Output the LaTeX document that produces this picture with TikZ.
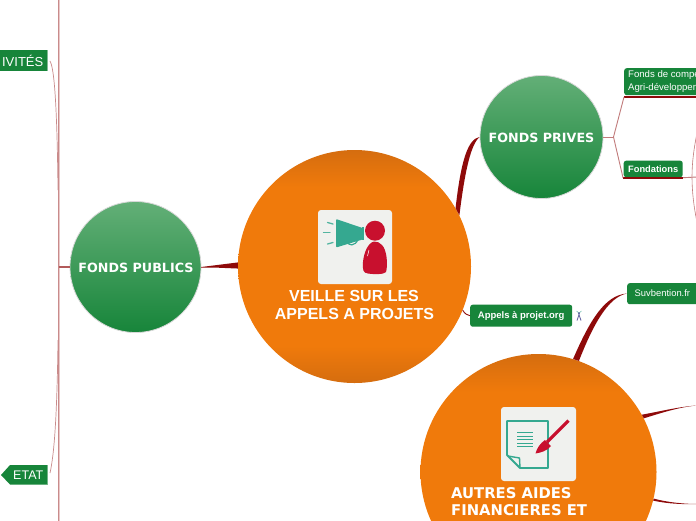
\documentclass[tikz,border=0pt]{standalone}
\usepackage{fontspec}
\setmainfont{Liberation Sans}
\newfontfamily\wide{DejaVu Sans}
\usetikzlibrary{backgrounds,calc}
\definecolor{orangeB}{HTML}{F07A0B}
\definecolor{orangeD}{HTML}{D56D0F}
\definecolor{greenB}{HTML}{17853A}
\definecolor{greenL}{HTML}{63AF77}
\definecolor{linkD}{HTML}{8E0A0A}
\definecolor{linkM}{HTML}{B25A5A}
\definecolor{linkP}{HTML}{E9C9C9}
\definecolor{teal}{HTML}{35A890}
\definecolor{crim}{HTML}{C8102E}
\definecolor{paper}{HTML}{F0F1EE}
\pgfdeclareverticalshading{orangeband}{100bp}{
 color(0bp)=(orangeD); color(25bp)=(orangeD); color(33bp)=(orangeB);
 color(67bp)=(orangeB); color(75bp)=(orangeD); color(100bp)=(orangeD)}
\tikzset{
 bigc/.style={circle,inner sep=0pt,shading=orangeband},
 greenc/.style={circle,inner sep=0pt,top color=greenL,bottom color=greenB,draw=black!15,line width=.8pt},
 tag/.style={fill=greenB,text=white,rounded corners=2.5pt,inner sep=0pt,anchor=north west,font=\fontsize{9.5}{11.5}\selectfont},
 head/.style={text=white,font=\wide\bfseries\fontsize{12.7}{15}\selectfont,inner sep=0pt},
 thin link/.style={draw=linkM!80,line width=.9pt},
 taper/.style={fill=linkD,draw=none},
 spine/.style={draw=linkP,line width=2pt},
 spinec/.style={draw=linkM!70,line width=.6pt},
 paperbox/.style={fill=paper,rounded corners=3pt,inner sep=0pt},
}
\begin{document}
\begin{tikzpicture}[x=1pt,y=-1pt]
\useasboundingbox (0,0) rectangle (696,520);
\clip (0,0) rectangle (696,520);
\fill[white] (0,0) rectangle (696,520);
% main circles
\node[bigc,minimum size=233pt] (veille) at (354.5,266.5) {};
\node[bigc,minimum size=236pt] (autres) at (538.5,472) {};
\node[greenc,minimum size=131pt] (publics) at (135.5,267) {};
\node[greenc,minimum size=123pt] (prives) at (541.5,137) {};
% labels of circles
\node[text=white,font=\bfseries\fontsize{16}{18}\selectfont,align=center,inner sep=0pt] (veilletxt) at (354,304.5) {VEILLE SUR LES\\\hspace*{1pt}APPELS A PROJETS};
\node[head,font=\wide\bfseries\fontsize{14.8}{17}\selectfont,align=left,anchor=north west] (autrestxt) at (451,487.5) {AUTRES AIDES\\FINANCIERES ET};
\node[head] (publicstxt) at (136,267.5) {FONDS PUBLICS};
\node[head] (privestxt) at (541.5,137.5) {FONDS PRIVES};
% tags
\node[tag,minimum width=80pt,minimum height=27pt] (compe) at (624,68) {};
\node[tag,anchor=north west,font=\fontsize{9.6}{12.4}\selectfont,align=left] (competxt) at (628,70.5) {Fonds de compe\\Agri-développem};
\node[tag,minimum width=59pt,minimum height=16.5pt,font=\bfseries\fontsize{9.3}{11}\selectfont] (fondations) at (623.5,160.5) {Fondations};
\node[tag,minimum width=102pt,minimum height=22pt,font=\bfseries\fontsize{9.5}{11}\selectfont] (appels) at (470,304.5) {Appels à projet.org};
\node[tag,minimum width=80pt,minimum height=21pt,font=\fontsize{9.4}{11}\selectfont] (subv) at (627,283) {};
\node[text=white,inner sep=0pt,anchor=west,font=\fontsize{9.4}{11}\selectfont] (subvtxt) at (634.5,293.5) {Suvbention.fr};
% left tags
\fill[greenB!55!white] (47,50) rectangle (48.2,70.5);
\fill[greenB] (-2,50) rectangle (47,70.5);
\coordinate (activ) at (50,61);
\node[text=white,inner sep=0pt,anchor=east,font=\fontsize{13}{14}\selectfont] (activtxt) at (43.5,60.5) {IVITÉS};
\fill[greenB!55!white] (47,465) rectangle (48.2,484.5);
\fill[greenB] (47,465) -- (10,465) -- (1,475) -- (10,484.5) -- (47,484.5) -- cycle;
\coordinate (etat) at (50,473);
\node[text=white,inner sep=0pt,anchor=east,font=\fontsize{12.5}{14}\selectfont] (etattxt) at (43.5,475) {ETAT};
% underlines
\coordinate (c1) at (624,97);
\coordinate (c1e) at (697,97);
\coordinate (c2) at (623,177.7);
\coordinate (c2e) at (683,177.7);
\coordinate (c2f) at (697,177);
\draw[linkD,line width=2pt] (c1) -- (c1e);
\draw[linkD,line width=2pt] (c2) -- (c2e);
\draw[thin link] (c2e) -- (c2f);
% right branch connectors
\coordinate (j1) at (613.5,137);
\draw[thin link] (prives.east) -- (j1);
\draw[thin link] (j1) -- (c1);
\draw[thin link] (j1) -- (c2);
\coordinate (rt) at (697,133);
\coordinate (rb) at (697,222);
\coordinate (rm) at (692,177);
\draw[thin link,line width=.6pt] (rt) .. controls (694,148) and (692,162) .. (rm) .. controls (692,192) and (694,208) .. (rb);
% tapered connectors
\fill[taper] (prives.west) .. controls (468,139) and (461,160) .. (veille.30) -- (veille.26.5) .. controls (465,170) and (471,144) .. (prives.west);
\fill[taper] (publics.east) -- (veille.178.5) -- (veille.181.5) -- cycle;
\draw[linkM,line width=1pt] (publics.east) -- ($(publics.east)+(12,0)$);
\fill[taper] (subv.west |- subvtxt) .. controls (605,295) and (590,320) .. (autres.73) -- (autres.70) .. controls (593,325) and (608,297) .. (subv.west |- subvtxt);
\coordinate (a1) at (697,405.5);
\coordinate (a2) at (697,504);
\fill[taper] (autres.29.2) .. controls (662,411) and (680,406.5) .. (a1) .. controls (680,407) and (664,412) .. (autres.27.6);
\fill[taper] (autres.-13) .. controls (668,502.5) and (685,504) .. (a2) .. controls (685,504.4) and (668,504) .. (autres.-14);
\draw[linkD,line width=.9pt] (veille.-22.8) .. controls (465,314) and (467,315) .. (appels.west);
% left spine
\coordinate (st) at (58.5,-1);
\coordinate (sb) at (58.5,521);
\draw[spine] (st) -- (sb);
\draw[spinec] (st) -- (sb);
\coordinate (sj) at (58.5,267);
\draw[linkM,line width=1.2pt] (sj) -- (publics.west);
\draw[linkM!70,line width=.7pt] (activ) .. controls (54,68) and (57,100) .. (58,190);
\draw[linkM!70,line width=.7pt] (etat) .. controls (54,455) and (57,420) .. (58,340);
% tiny icon
\coordinate (ic) at (579,315.5);
\draw[teal!70,line width=.5pt] ($(ic)+(-2.5,-4.5)$) -- ($(ic)+(0,-2.5)$) -- ($(ic)+(2.5,-4.5)$);
\draw[blue!25!gray,line width=.8pt] ($(ic)+(-2,5)$) -- ($(ic)+(.7,-3)$) ($(ic)+(2,5)$) -- ($(ic)+(-.7,-3)$);
% megaphone icon
\node[paperbox,minimum size=74pt] (icon1) at (355,247) {};
\fill[teal,rounded corners=1pt] (336,219) -- (362.5,228) -- (362.5,239.5) -- (336,247.5) -- cycle;
\fill[teal] (362,227.3) rectangle (363.5,240);
\draw[teal,line width=1.2pt] (348,241) .. controls (347,246.5) and (356,246.5) .. (358,239);
\draw[teal!85,line width=1.3pt,line cap=round] (327.5,222.5) -- (333,224);
\draw[teal!85,line width=1.3pt,line cap=round] (323.5,232.7) -- (330,232.7);
\draw[teal!85,line width=1.3pt,line cap=round] (327.5,244) -- (333,242.5);
\fill[crim] (375,230.7) circle (10pt);
\fill[crim] (374,241.5) .. controls (368,243) and (364,252) .. (363,262) .. controls (362.5,270) and (363,273) .. (368,273.5) .. controls (374,274.5) and (384,274.5) .. (386,272) .. controls (388,265) and (387,250) .. (382,245) .. controls (380,243) and (377,241) .. (374,241.5) -- cycle;
\draw[white,line width=.5pt] (369,250) -- (367.5,256);
% document icon
\node[paperbox,minimum width=75pt,minimum height=74pt] (icon2) at (538.5,444) {};
\draw[teal,line width=1.8pt,line join=round] (507,421) -- (548,421) -- (548,468) -- (520,468) -- (507,455) -- cycle;
\draw[teal,line width=1.4pt,line join=round] (508,456) -- (519.5,458) -- (520,468);
\foreach \yy [count=\i] in {432.5,436,439.5,443,446.5}{
 \draw[teal,line width=1pt] (517,\yy) -- (533,\yy);
}
\draw[crim,line width=3.2pt] (568.5,420.5) -- (547,442);
\fill[crim] (545,440) -- (551,446) .. controls (547,451) and (541,452.5) .. (535.5,453.5) .. controls (537,448) and (540,443.5) .. (545,440) -- cycle;
\end{tikzpicture}
\end{document}
